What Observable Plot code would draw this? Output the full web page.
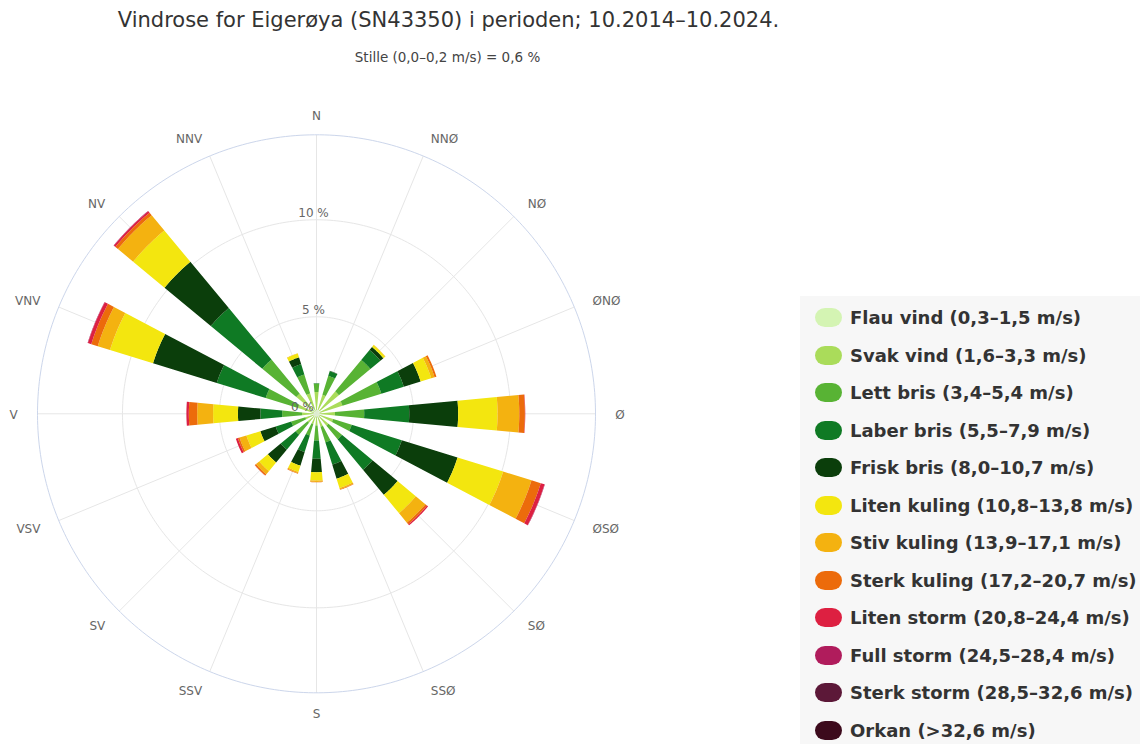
<!DOCTYPE html>
<html><head><meta charset="utf-8">
<script src="https://cdn.jsdelivr.net/npm/d3@7"></script>
<script src="https://cdn.jsdelivr.net/npm/@observablehq/plot@0.6"></script>
<style>
body{margin:0;background:#fff}
#wrap{position:relative;width:1140px;height:744px;overflow:hidden;font-family:"DejaVu Sans",sans-serif}
#title{position:absolute;left:0;width:897px;top:6px;text-align:center;font-size:21px;line-height:28px;color:#333;white-space:nowrap}
#sub{position:absolute;left:0;width:895px;top:49px;text-align:center;font-size:13.5px;line-height:17px;color:#444;white-space:nowrap}
#chart{position:absolute;left:0;top:0}
#legend{position:absolute;left:800px;top:296px;width:340px;height:448px;background:#f7f7f7;box-sizing:border-box;padding:3px 0 0 15px}
.lg-swatch{height:37.5px;margin:0!important;padding:0!important;display:flex;align-items:center}
.lg-swatch > svg{margin-right:8px!important}
.lg-swatch svg rect{rx:10px;ry:10px}
</style></head><body>
<div id="wrap">
  <div id="chart"></div>
  <div id="title">Vindrose for Eigerøya (SN43350) i perioden; 10.2014–10.2024.</div>
  <div id="sub">Stille (0,0–0,2 m/s) = 0,6 %</div>
  <div id="legend"></div>
</div>
<script>
const directions = ["N","NNØ","NØ","ØNØ","Ø","ØSØ","SØ","SSØ","S","SSV","SV","VSV","V","VNV","NV","NNV"];
const categories = ["Flau vind (0,3–1,5 m/s)","Svak vind (1,6–3,3 m/s)","Lett bris (3,4–5,4 m/s)","Laber bris (5,5–7,9 m/s)","Frisk bris (8,0–10,7 m/s)","Liten kuling (10,8–13,8 m/s)","Stiv kuling (13,9–17,1 m/s)","Sterk kuling (17,2–20,7 m/s)","Liten storm (20,8–24,4 m/s)","Full storm (24,5–28,4 m/s)","Sterk storm (28,5–32,6 m/s)","Orkan (>32,6 m/s)"];
const colors = ["#d4f4b3","#aadc5a","#58b334","#0f7a24","#0b3e0b","#f3e60f","#f4b210","#ec6b0b","#dd2041","#b01c5c","#5c1838","#3c0a1c"];
// percent of time, per direction (order as in directions)
const flau        = [0.20,0.20,0.20,0.20,0.15,0.15,0.15,0.15,0.15,0.15,0.15,0.15,0.15,0.15,0.15,0.15];
const svak        = [0.93,0.83,1.30,1.20,0.80,0.75,0.65,0.55,0.45,0.40,0.45,0.45,0.59,0.85,1.20,0.95];
const lett        = [0.42,1.02,2.11,2.10,1.51,1.00,0.90,0.84,0.78,0.62,0.80,0.76,1.03,1.74,2.28,1.02];
const laber       = [0.03,0.25,0.67,1.21,2.32,2.70,2.05,1.20,0.94,0.89,1.00,0.84,1.12,2.64,3.45,0.56];
const frisk       = [0.00,0.02,0.20,0.91,2.52,3.01,1.68,0.76,0.69,0.74,0.86,0.83,1.16,3.44,3.10,0.37];
const litenKuling = [0.00,0.00,0.12,0.57,2.03,2.46,1.22,0.50,0.43,0.33,0.58,0.75,1.28,2.32,2.10,0.20];
const stivKuling  = [0.00,0.00,0.02,0.18,1.12,1.53,0.64,0.07,0.07,0.07,0.21,0.37,0.82,0.66,1.02,0.02];
const sterkKuling = [0.00,0.00,0.00,0.10,0.29,0.50,0.11,0.03,0.02,0.03,0.08,0.09,0.43,0.35,0.17,0.00];
const litenStorm  = [0.00,0.00,0.00,0.00,0.02,0.20,0.07,0.00,0.00,0.00,0.01,0.11,0.12,0.18,0.10,0.00];
const fullStorm   = [0.00,0.00,0.00,0.00,0.00,0.02,0.00,0.00,0.00,0.00,0.00,0.00,0.01,0.02,0.02,0.00];
const sterkStorm  = [0,0,0,0,0,0,0,0,0,0,0,0,0,0,0,0];
const orkan       = [0,0,0,0,0,0,0,0,0,0,0,0,0,0,0,0];
const ringTicks = [0,5,10];
const rMax = 14.38;

const series = [flau,svak,lett,laber,frisk,litenKuling,stivKuling,sterkKuling,litenStorm,fullStorm,sterkStorm,orkan];
const step = 360 / directions.length;
const lonOf = i => 180.0001 - i * step;     // compass bearing -> longitude around the pole
const latOf = r => 90 - r;                  // radial percent -> colatitude (1° per %)
const half = step * 0.236;

const segs = [];
directions.forEach((d, i) => {
  let cum = 0;
  series.forEach((s, c) => {
    const v = s[i];
    if (v > 0) segs.push({dir: d, i, cat: categories[c], r0: cum, r1: cum + v});
    cum += v;
  });
});

function wedge(d) {
  const c = lonOf(d.i), a = c - half, b = c + half, n = 16;
  const li = latOf(Math.max(d.r0, 0.01)), lo = latOf(d.r1);
  const ring = [];
  for (let k = 0; k <= n; k++) ring.push([a + (b - a) * k / n, li]);
  for (let k = n; k >= 0; k--) ring.push([a + (b - a) * k / n, lo]);
  ring.push(ring[0]);
  return {type: "Polygon", coordinates: [ring]};
}
const circle = r => d3.geoCircle().center([0, 90]).radius(r).precision(1)();

const dirData = directions.map((d, i) => ({d, i, deg: i * step}));
const labelR = 15.4;
const dirText = (filter, anchor) => Plot.text(dirData.filter(filter), {
  x: d => lonOf(d.i), y: latOf(labelR), text: "d", fill: "#666", fontSize: 12, textAnchor: anchor, dy: 1.5});

const plot = Plot.plot({
  width: 1140, height: 744,
  marginLeft: 37, marginRight: 545, marginTop: 134.3, marginBottom: 51.7,
  projection: {type: "azimuthal-equidistant", rotate: [0, -90], domain: circle(rMax), clip: false},
  color: {domain: categories, range: colors},
  style: {fontFamily: "DejaVu Sans, sans-serif", background: "transparent", overflow: "visible"},
  marks: [
    Plot.geo(ringTicks.filter(t => t > 0), {geometry: t => circle(t), fill: "none", stroke: "#e6e6e6", strokeWidth: 1}),
    Plot.link(dirData, {x1: d => lonOf(d.i), y1: 90, x2: d => lonOf(d.i), y2: latOf(rMax), stroke: "#e6e6e6", strokeWidth: 1}),
    Plot.geo([rMax], {geometry: t => circle(t), fill: "none", stroke: "#ccd6eb", strokeWidth: 1}),
    Plot.geo(segs, {geometry: wedge, fill: "cat"}),
    Plot.text(ringTicks.filter(t => t === 0), {x: 180, y: t => latOf(t), text: t => `${t} %`, dy: -7, dx: -14,
      fill: "#666", fontSize: 12, textAnchor: "middle"}),
    Plot.text(ringTicks.filter(t => t > 0), {x: 180, y: t => latOf(t), text: t => `${t} %`, dy: -7, dx: -3,
      fill: "#666", fontSize: 12, textAnchor: "middle"}),
    dirText(d => d.deg === 0 || d.deg === 180, "middle"),
    dirText(d => d.deg > 0 && d.deg < 180, "start"),
    dirText(d => d.deg > 180, "end")
  ]
});
document.getElementById("chart").append(plot);

const lg = plot.legend("color", {legend: "swatches", columns: 1, swatchWidth: 27, swatchHeight: 19, className: "lg",
  style: {fontFamily: "DejaVu Sans, sans-serif", fontSize: "18px", fontWeight: "600", color: "#333"}});
document.getElementById("legend").append(lg);
</script>
</body></html>
